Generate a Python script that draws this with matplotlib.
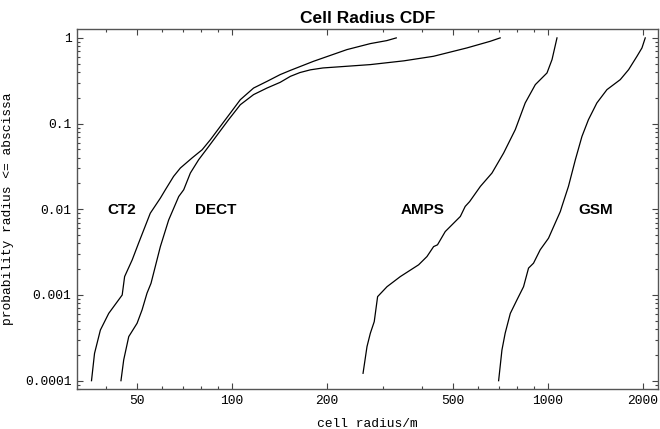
import matplotlib
matplotlib.use("Agg")
import matplotlib.pyplot as plt
from matplotlib import ticker

# values (cell radius in m, cumulative probability)
ct2_r = [35.9, 36.7, 38.3, 40.7, 44.9, 45.7, 48.3, 50.6, 55.1, 59.3, 61.5, 65.3,
         68.6, 74.7, 80.4, 85.4, 91.8, 98.8, 106.2, 117, 129, 142, 153, 181,
         231, 274, 309, 331]
ct2_p = [1e-4, 2.08e-4, 3.9e-4, 6.1e-4, 1e-3, 1.64e-3, 2.57e-3, 4.03e-3, 9.0e-3,
         1.35e-2, 0.0169, 0.0242, 0.0303, 0.0397, 0.0495, 0.0649, 0.0927, 0.133,
         0.19, 0.26, 0.311, 0.373, 0.418, 0.533, 0.73, 0.858, 0.93, 1.0]

dect_r = [44.5, 45.4, 47.1, 50.05, 51.9, 53.8, 55.4, 59.3, 63, 67.8, 70.3, 73.8,
          78.4, 84.3, 90.7, 97.5, 106.2, 117, 129, 142, 153, 164, 177, 194, 215,
          274, 350, 434, 554, 656, 706]
dect_p = [1e-4, 1.75e-4, 3.27e-4, 4.68e-4, 6.7e-4, 1.05e-3, 1.37e-3, 3.67e-3,
          7.5e-3, 0.0141, 0.0169, 0.0265, 0.0379, 0.054, 0.0776, 0.111, 0.166,
          0.218, 0.26, 0.303, 0.356, 0.394, 0.424, 0.446, 0.458, 0.488, 0.54,
          0.61, 0.764, 0.912, 1.0]

amps_r = [259.8, 267.4, 274, 281.9, 288.9, 309.4, 340.9, 389.5, 414, 434.5, 447,
          473, 497, 528, 547, 565, 611, 665, 724, 788, 847, 912, 993, 1030, 1068]
amps_p = [1.22e-4, 2.5e-4, 3.58e-4, 4.89e-4, 9.57e-4, 1.25e-3, 1.64e-3, 2.25e-3,
          2.81e-3, 3.67e-3, 3.85e-3, 5.5e-3, 6.6e-3, 8.25e-3, 0.0108, 0.0123,
          0.0185, 0.0265, 0.0454, 0.085, 0.174, 0.285, 0.39, 0.558, 1.0]

gsm_r = [697.9, 715, 732, 760, 798, 837, 868, 900, 945, 1004, 1054, 1094, 1107,
         1161, 1221, 1281, 1343, 1428, 1537, 1694, 1800, 1913, 1984, 2032]
gsm_p = [1e-4, 2.28e-4, 3.58e-4, 6.1e-4, 8.8e-4, 1.25e-3, 2.06e-3, 2.35e-3,
         3.37e-3, 4.6e-3, 6.9e-3, 9.4e-3, 0.0108, 0.0185, 0.0379, 0.0708, 0.111,
         0.174, 0.249, 0.326, 0.426, 0.61, 0.764, 1.0]

names = ["CT2", "DECT", "AMPS", "GSM"]
name_x = [44.6, 88.5, 400, 1411]
name_y = [0.0098, 0.0098, 0.0098, 0.0098]

x_ticks = [50, 100, 200, 500, 1000, 2000]
x_labels = ["50", "100", "200", "500", "1000", "2000"]
y_ticks = [0.0001, 0.001, 0.01, 0.1, 1]
y_labels = ["0.0001", "0.001", "0.01", "0.1", "1"]

mono = "Liberation Mono"
sans = "Liberation Sans"

fig = plt.figure(figsize=(6.6, 4.29), dpi=100)
ax = fig.add_axes([77 / 660, 1 - 389 / 429, 581 / 660, 360 / 429])

for r, p in [(ct2_r, ct2_p), (dect_r, dect_p), (amps_r, amps_p), (gsm_r, gsm_p)]:
  ax.plot(r, p, color="black", linewidth=0.9)

for i in range(len(names)):
  ax.text(name_x[i], name_y[i], names[i], ha="center", va="center",
          family=sans, fontweight="bold", fontsize=11)

ax.set_xscale("log")
ax.set_yscale("log")
ax.set_xlim(32.3, 2230)
ax.set_ylim(8.0e-5, 1.27)

ax.xaxis.set_major_locator(ticker.FixedLocator(x_ticks))
ax.xaxis.set_major_formatter(ticker.FixedFormatter(x_labels))
ax.xaxis.set_minor_locator(ticker.LogLocator(base=10, subs=range(2, 10)))
ax.xaxis.set_minor_formatter(ticker.NullFormatter())
ax.yaxis.set_major_locator(ticker.FixedLocator(y_ticks))
ax.yaxis.set_major_formatter(ticker.FixedFormatter(y_labels))
ax.yaxis.set_minor_locator(ticker.LogLocator(base=10, subs=range(2, 10), numticks=20))
ax.yaxis.set_minor_formatter(ticker.NullFormatter())

# ticks point inwards on all four sides
ax.tick_params(which="both", direction="in", top=True, right=True,
               color="#444444", width=0.8)
ax.tick_params(which="major", length=4.5, pad=4)
ax.tick_params(which="minor", length=2.5)
for lab in ax.get_xticklabels() + ax.get_yticklabels():
  lab.set_family(mono)
  lab.set_fontsize(9.4)

for s in ax.spines.values():
  s.set_color("#555555")
  s.set_linewidth(1.0)

ax.set_xlabel("cell radius/m", family=mono, fontsize=9.4, labelpad=8)
ax.set_ylabel("probability radius <= abscissa", family=mono, fontsize=9.4, labelpad=8)
ax.set_title("Cell Radius CDF", family=sans, fontweight="bold", fontsize=12.5, pad=4)

fig.savefig("out.png", dpi=100)
